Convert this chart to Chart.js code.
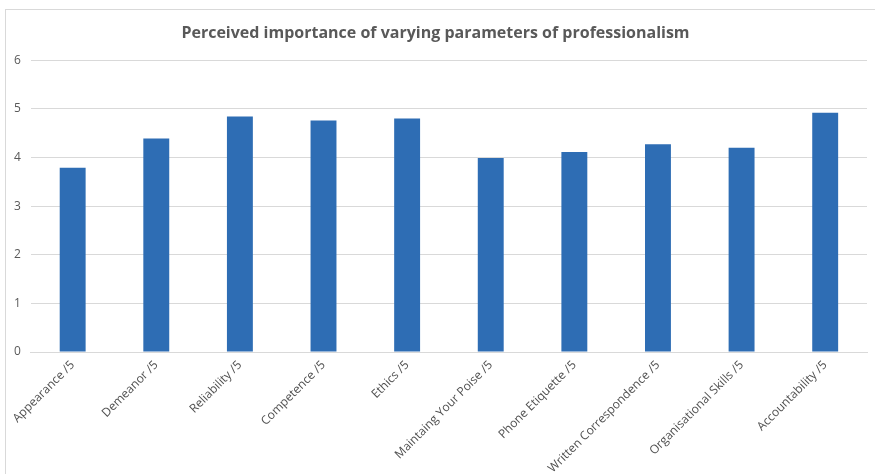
<!DOCTYPE html>
<html>
<head>
  <title>Perceived importance of varying parameters of professionalism</title>
  <meta charset="utf-8" />
  <script src="https://cdn.jsdelivr.net/npm/chart.js"></script>
  <style>
    body {
      margin: 0;
      padding: 0;
      background: #fff;
    }
    #wrap {
      position: relative;
      width: 875px;
      height: 474px;
      overflow: hidden;
    }
    #frame {
      position: absolute;
      left: 5px;
      top: 9px;
      width: 900px;
      height: 500px;
      border: 1px solid #d9d9d9;
      pointer-events: none;
    }
  </style>
</head>
<body>
  <div id="wrap">
    <div id="frame"></div>
    <canvas id="chart" width="875" height="474"></canvas>
  </div>

  <script>
    const categories = [
      "Appearance /5",
      "Demeanor /5",
      "Reliability /5",
      "Competence /5",
      "Ethics /5",
      "Maintaing Your Poise /5",
      "Phone Etiquette /5",
      "Written Correspondence /5",
      "Organisational Skills /5",
      "Accountability /5"
    ];
    const scores = [3.79, 4.39, 4.84, 4.76, 4.80, 3.99, 4.11, 4.27, 4.20, 4.92];
    const yTicks = [0, 1, 2, 3, 4, 5, 6];

    const ctx = document.getElementById('chart').getContext('2d');

    const chart = new Chart(ctx, {
      type: 'bar',
      data: {
        labels: categories,
        datasets: [{
          label: "Score",
          data: scores,
          backgroundColor: "#2e6db4",
          borderWidth: 0,
          barPercentage: 0.31,
          categoryPercentage: 1
        }]
      },
      options: {
        responsive: false,
        animation: false,
        layout: {
          padding: { left: 4, right: 8, top: 0, bottom: 2 }
        },
        plugins: {
          legend: { display: false },
          tooltip: { enabled: false },
          title: {
            display: true,
            text: "Perceived importance of varying parameters of professionalism",
            color: "#595959",
            font: { family: "'Open Sans', sans-serif", size: 16, weight: 'bold' },
            padding: { top: 24, bottom: 17 }
          }
        },
        scales: {
          x: {
            afterFit: (scale) => { scale.height = 120; },
            grid: { display: false, drawTicks: false },
            border: { color: "#d9d9d9" },
            ticks: {
              color: "#505050",
              font: { family: "'Open Sans', sans-serif", size: 12 },
              maxRotation: 45,
              minRotation: 45,
              padding: 6
            }
          },
          y: {
            min: 0,
            max: 6,
            afterBuildTicks: (axis) => {
              axis.ticks = yTicks.map(v => ({ value: v }));
            },
            grid: { color: "#d9d9d9", drawTicks: false },
            border: { display: false },
            ticks: {
              color: "#595959",
              font: { family: "'Open Sans', sans-serif", size: 12 },
              padding: 10
            }
          }
        }
      }
    });
  </script>
</body>
</html>
